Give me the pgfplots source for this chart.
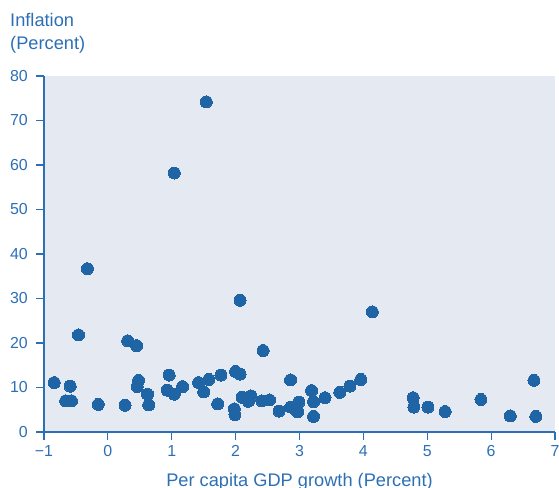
\documentclass[border=0pt]{standalone}
\usepackage{fontspec}
\setmainfont{Liberation Sans}
\usepackage{pgfplots}
\pgfplotsset{compat=1.18}
\definecolor{txtblue}{HTML}{2C6FB5}
\definecolor{dotblue}{HTML}{1F64A4}
\definecolor{bgcol}{HTML}{E4E9F2}
\begin{document}
\begin{tikzpicture}
\path[use as bounding box] (-44bp,-56bp) rectangle (515bp,432bp);
\begin{axis}[
  at={(0,0)}, anchor=south west,
  scale only axis, width=511bp, height=356bp,
  xmin=-1, xmax=7, ymin=0, ymax=80,
  axis lines=left,
  axis line style={-, draw=txtblue, line width=1.1bp},
  axis background/.style={fill=bgcol},
  xtick={-1,0,1,2,3,4,5,6,7},
  xticklabels={−1,0,1,2,3,4,5,6,7},
  ytick={0,10,20,30,40,50,60,70,80},
  tick align=outside,
  major tick length=8bp,
  tick style={draw=txtblue, line width=1.1bp},
  /pgf/number format/assume math mode=true,
  ticklabel style={font=\fontsize{16}{16}\selectfont, text=txtblue},
  xticklabel style={inner sep=0pt, anchor=north, yshift=-5bp},
  yticklabel style={inner sep=0pt, anchor=east, xshift=-8bp},
  xlabel={Per capita GDP growth (Percent)},
  xlabel style={font=\fontsize{18.3}{22}\selectfont, text=txtblue, inner sep=0pt, anchor=base, at={(axis description cs:0.5,0)}, yshift=-54.7bp},
  clip=false,
]
\addplot[only marks, color=dotblue, mark=*, mark size=6bp, mark options={fill=dotblue, draw=dotblue, line width=0pt}] coordinates {
(-0.84,11.1) (-0.59,10.3) (-0.66,7.0) (-0.57,7.0) (-0.46,21.8) (-0.32,36.7)
(-0.15,6.2) (0.27,6.0) (0.31,20.5) (0.45,19.4) (0.48,11.6) (0.46,10.2)
(0.62,8.5) (0.64,6.1) (0.96,12.8) (0.93,9.4) (1.04,8.5) (1.04,58.2)
(1.17,10.2) (1.42,11.1) (1.50,9.0) (1.58,11.8) (1.54,74.2) (1.72,6.3)
(1.77,12.8) (1.98,5.2) (1.99,3.9) (2.00,13.6) (2.07,13.0) (2.07,29.6)
(2.10,7.8) (2.24,8.1) (2.20,6.9) (2.41,7.0) (2.43,18.3) (2.53,7.2)
(2.68,4.7) (2.86,11.7) (2.86,5.6) (2.99,6.7) (2.97,4.5) (3.19,9.3)
(3.22,6.8) (3.22,3.5) (3.40,7.7) (3.63,8.9) (3.79,10.3) (3.96,11.8)
(4.14,27.0) (4.78,7.7) (4.79,5.6) (5.01,5.6) (5.28,4.6) (5.84,7.3)
(6.30,3.6) (6.67,11.6) (6.70,3.5)
};
\end{axis}
\node[anchor=base west, inner sep=0pt, text=txtblue, font=\fontsize{18.3}{22}\selectfont] at (-34bp,405.3bp) {Inflation};
\node[anchor=base west, inner sep=0pt, text=txtblue, font=\fontsize{18.3}{22}\selectfont] at (-34bp,382bp) {(Percent)};
\end{tikzpicture}
\end{document}
